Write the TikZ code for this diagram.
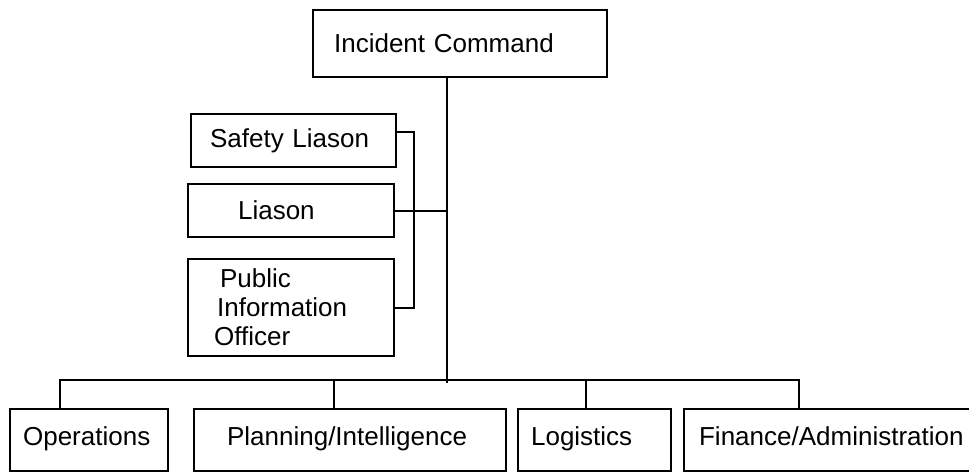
\documentclass[tikz,border=0pt]{standalone}
\usepackage{fontspec}
\setmainfont{Liberation Sans}
\tikzset{
  unit/.style={draw, line width=2.2pt, anchor=north west, align=left,
    inner ysep=0pt, font=\fontsize{26}{29}\selectfont},
  section/.style={unit, minimum height=62, execute at begin node=\strut},
  link/.style={line width=2.2pt}
}
\begin{document}
\begin{tikzpicture}[x=1pt,y=-1pt]
  \useasboundingbox (0,0) rectangle (969,472);
  \clip (0,0) rectangle (969,472);

  % command and staff
  \node[unit, minimum height=67, inner xsep=21, text width=252] (cmd) at (312,9) {Incident Command};
  \node[unit, minimum height=53, inner xsep=19, text width=167] (safety) at (190,113) {Safety Liason};
  \node[unit, minimum height=53, inner xsep=50, text width=106] (liason) at (187,183) {Liason};
  \node[unit, minimum height=97, inner xsep=26, text width=154] (pio) at (187,258)
    {\hspace*{6pt}Public\\\hspace*{3pt}Information\\Officer};

  % sections
  \node[section, inner xsep=13, text width=132] (ops) at (9,408) {Operations};
  \node[section, inner xsep=33, text width=246] (plan) at (193,408) {Planning/Intelligence};
  \node[section, inner xsep=13, text width=127] (log) at (517,408) {Logistics};
  \node[section, inner xsep=15, text width=280] (fin) at (683,408) {Finance/Administration};

  \coordinate (stem) at (447,383);
  \coordinate (brk) at (414,132);

  \draw[link] (cmd.south -| stem) -- (stem);
  \draw[link] (safety.east |- brk) -- (brk) -- (brk |- pio.east) -- (pio.east);
  \draw[link] (liason.east) -- (liason.east -| stem);

  \foreach \n/\x in {ops/60, plan/334, log/586, fin/799}
    \coordinate (\n-up) at (\x,380);
  \draw[link] (ops.north -| ops-up) -- (ops-up) -- (fin-up) -- (fin.north -| fin-up);
  \draw[link] (plan-up) -- (plan.north -| plan-up);
  \draw[link] (log-up) -- (log.north -| log-up);
\end{tikzpicture}
\end{document}
